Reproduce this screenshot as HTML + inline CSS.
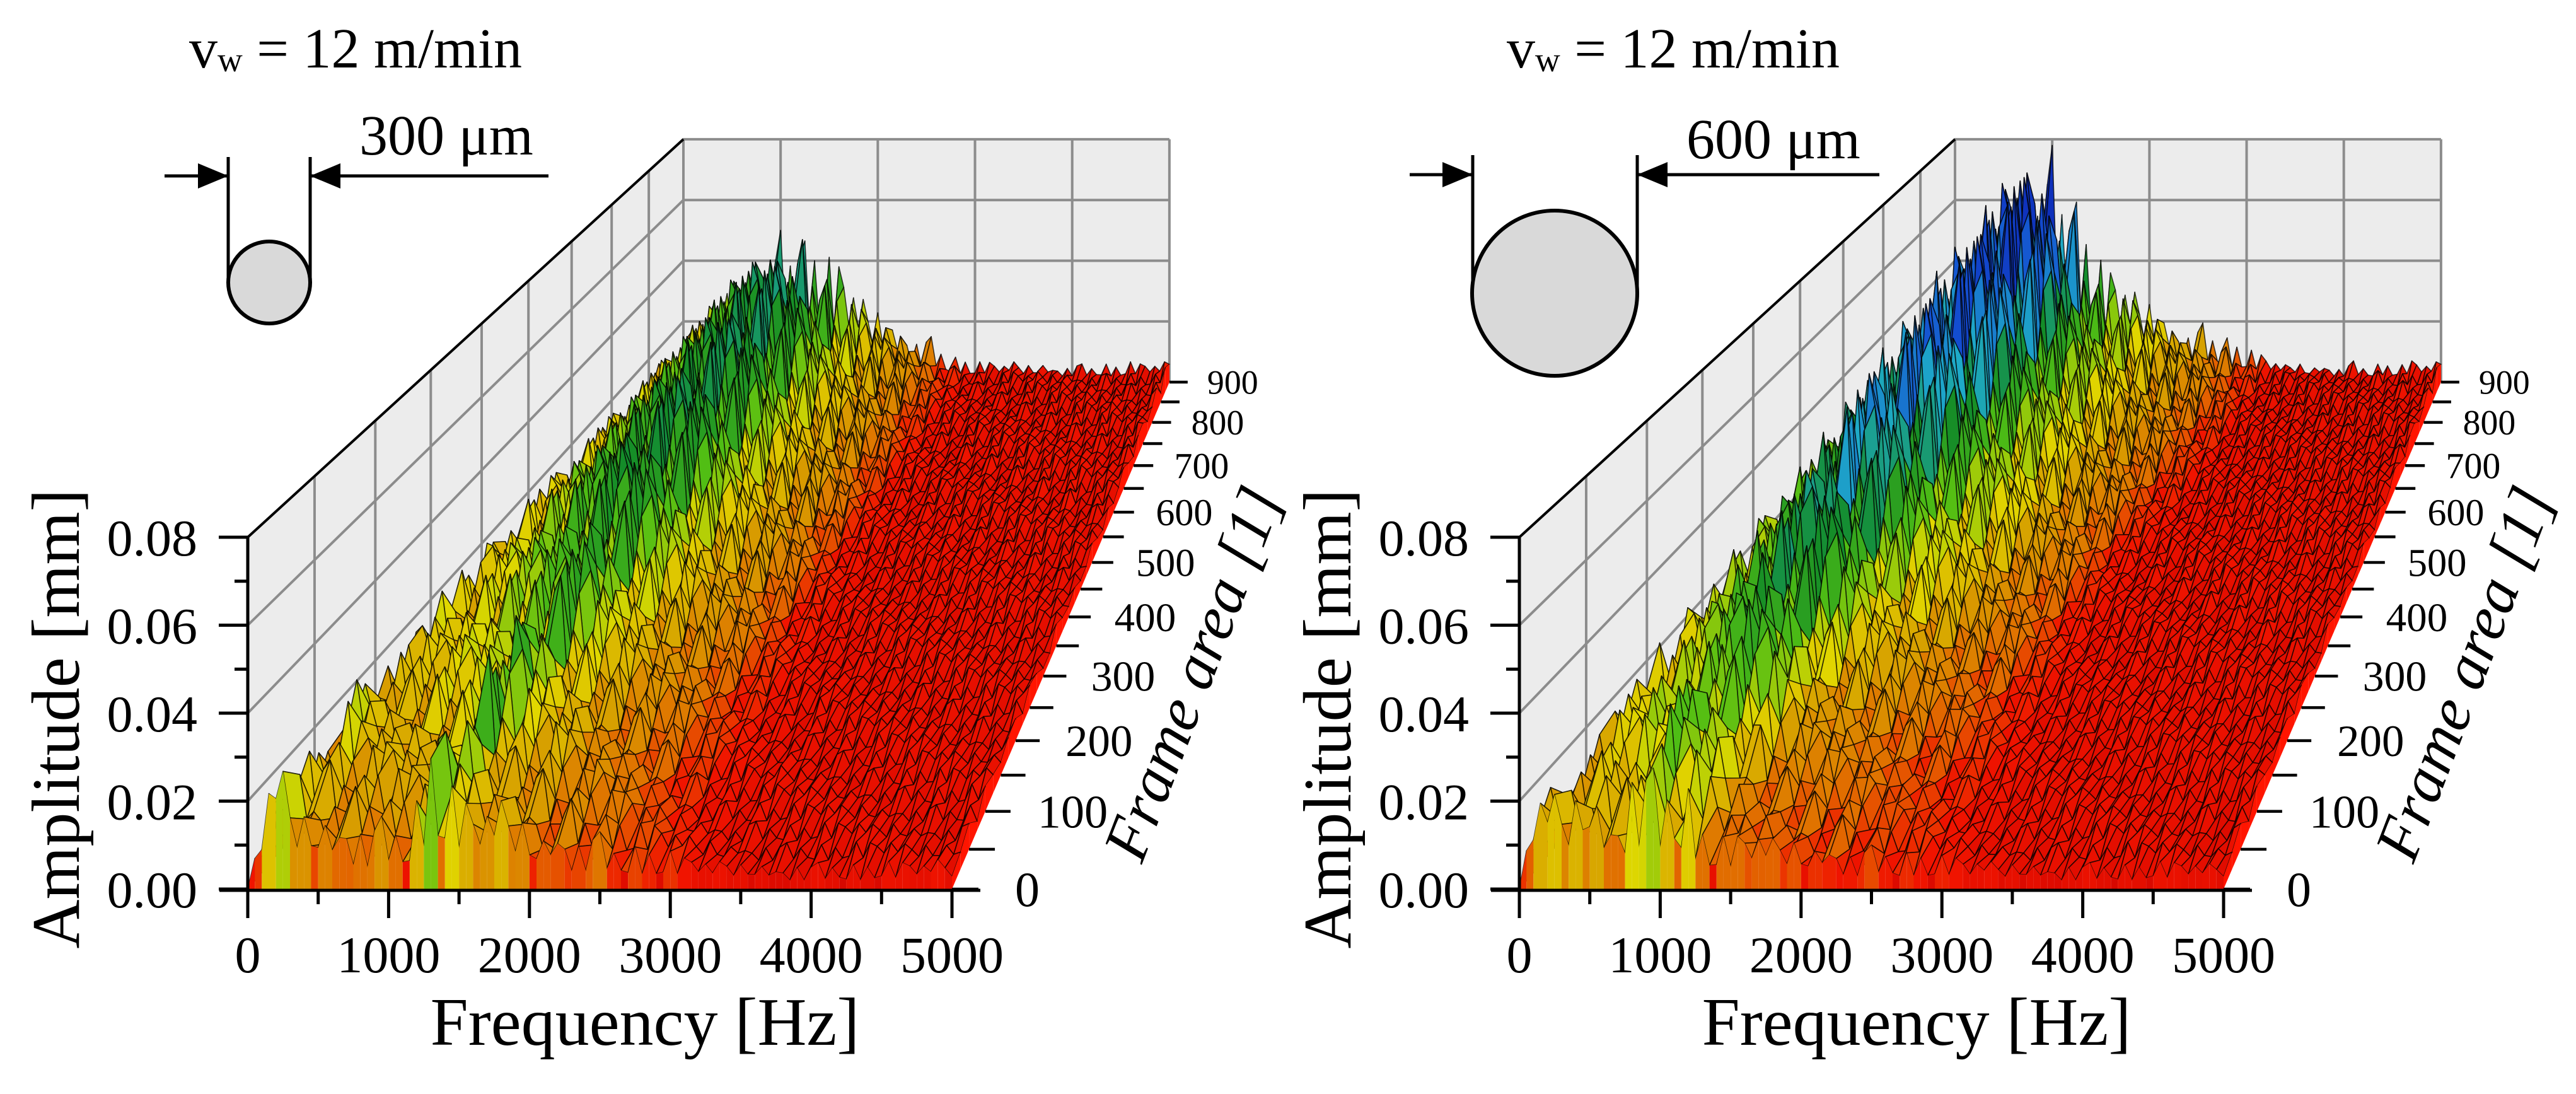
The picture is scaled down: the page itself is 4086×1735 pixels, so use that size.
<!DOCTYPE html>
<html>
<head>
<meta charset="utf-8">
<style>
html,body{margin:0;padding:0;background:#fff;}
svg{display:block;}
text{font-family:"Liberation Serif",serif;fill:#000;}
</style>
</head>
<body>
<svg id="fig" xmlns="http://www.w3.org/2000/svg" width="4086" height="1735" viewBox="0 0 4086 1735"></svg>
<script>
// ---- chart data (amplitude envelopes in mm, every 100 Hz from 0 to 5000 Hz) ----
const freqTicks = [0, 1000, 2000, 3000, 4000, 5000];
const ampTicks = [0, 0.02, 0.04, 0.06, 0.08];
const ampTickLabels = ["0.00", "0.02", "0.04", "0.06", "0.08"];
const frameTicks = [0, 100, 200, 300, 400, 500, 600, 700, 800, 900];
const profileFrames = [0, 450, 900];

const leftFront = [0,.016,.034,.022,.018,.02,.017,.019,.018,.016,.017,.016,.022,.036,.027,.022,.017,.019,.021,.018,.015,.014,.016,.014,.014,.013,.011,.011,.01,.009,.009,.007,.007,.006,.007,.006,.007,.006,.006,.007,.006,.006,.007,.006,.006,.007,.006,.006,.006,.007,.006];
const leftMid   = [0,.022,.025,.026,.028,.032,.034,.036,.04,.042,.045,.046,.044,.045,.042,.038,.034,.03,.027,.025,.023,.021,.02,.019,.018,.016,.014,.011,.009,.008,.007,.007,.006,.006,.007,.006,.006,.007,.006,.006,.007,.006,.006,.007,.006,.006,.007,.006,.006,.006,.006];
const leftBack  = [0,.02,.022,.026,.03,.034,.038,.042,.045,.048,.05,.052,.052,.05,.047,.043,.038,.034,.03,.027,.025,.023,.021,.02,.018,.016,.014,.011,.009,.008,.007,.007,.006,.006,.007,.006,.006,.007,.006,.006,.007,.006,.006,.007,.006,.006,.007,.006,.006,.006,.008];

const rightFront = [0,.02,.025,.02,.022,.03,.018,.02,.035,.03,.025,.03,.025,.015,.013,.012,.012,.013,.012,.012,.011,.011,.012,.011,.01,.01,.01,.009,.009,.008,.008,.007,.006,.007,.006,.006,.007,.006,.006,.007,.006,.006,.007,.006,.006,.007,.006,.006,.006,.006,.006];
const rightMid   = [0,.03,.034,.036,.04,.048,.055,.058,.06,.058,.055,.05,.045,.04,.035,.032,.03,.03,.028,.026,.025,.022,.02,.018,.017,.016,.015,.012,.01,.008,.007,.007,.006,.007,.006,.006,.007,.006,.006,.007,.006,.006,.007,.006,.006,.007,.006,.006,.006,.006,.006];
const rightBack  = [0,.035,.04,.045,.05,.062,.07,.075,.078,.08,.078,.075,.07,.06,.05,.042,.036,.034,.032,.03,.028,.026,.024,.022,.021,.02,.019,.018,.016,.014,.012,.01,.008,.007,.006,.007,.006,.006,.007,.006,.006,.007,.006,.006,.007,.006,.006,.007,.006,.006,.008];

// roughness read as relative spike heights
const roughness = [1.0,0.45,0.8,0.3,0.95,0.55,0.25,0.85,0.4,1.0,0.35,0.7,0.2,0.9,0.5,0.75,0.3,0.95,0.4,0.65,0.25,0.85,0.45,0.7,0.35,0.9,0.2,0.8,0.55,0.6,0.3];

const panels = [
  {ox: 393, name: "left", prof: [leftFront, leftMid, leftBack], title: "300 μm"},
  {ox: 2410, name: "right", prof: [rightFront, rightMid, rightBack], title: "600 μm"}
];

const NS = "http://www.w3.org/2000/svg";
const svg = document.getElementById("fig");
const K = 0.449;
function proj(ox, f, t, a) {
  const g = t * (1 + K) / (1 + K * t);
  const s = 1 / (1 + K * t);
  const lx = ox + 691 * g, ly = 1410 - 804 * g;
  return [lx + f / 5000 * 1117 * s, ly - a / 0.08 * 558 * s];
}
function scaleAt(t) { return 1 / (1 + K * t); }
function el(tag, attrs, parent) {
  const e = document.createElementNS(NS, tag);
  for (const k in attrs) e.setAttribute(k, attrs[k]);
  (parent || svg).appendChild(e);
  return e;
}
function pts(arr) { return arr.map(p => p[0].toFixed(1) + "," + p[1].toFixed(1)).join(" "); }

const stops = [[0,[200,0,0]],[0.007,[240,20,0]],[0.012,[225,110,0]],[0.018,[215,160,0]],[0.024,[225,215,0]],[0.032,[80,190,20]],[0.042,[20,140,40]],[0.052,[30,170,200]],[0.062,[20,80,210]],[0.08,[10,25,170]]];
function color(a) {
  if (a <= stops[0][0]) return "rgb(" + stops[0][1].join(",") + ")";
  for (let i = 1; i < stops.length; i++) {
    if (a <= stops[i][0]) {
      const u = (a - stops[i-1][0]) / (stops[i][0] - stops[i-1][0]);
      const c = stops[i-1][1].map((v, k) => Math.round(v + (stops[i][1][k] - v) * u));
      return "rgb(" + c.join(",") + ")";
    }
  }
  return "rgb(" + stops[stops.length-1][1].join(",") + ")";
}
function envelope(prof, fIdx100, frame) {
  const lo = Math.floor(fIdx100), hi = Math.min(50, lo + 1), u = fIdx100 - lo;
  function at(p) { return p[lo] + (p[hi] - p[lo]) * u; }
  if (frame <= profileFrames[1]) {
    const w = frame / profileFrames[1];
    return at(prof[0]) * (1 - w) + at(prof[1]) * w;
  }
  const w = (frame - profileFrames[1]) / (profileFrames[2] - profileFrames[1]);
  return at(prof[1]) * (1 - w) + at(prof[2]) * w;
}

panels.forEach(function(P, pi) {
  const ox = P.ox;
  const g = el("g", {});
  
  

  const lw = el("polygon", {points: pts([proj(ox,0,0,0),proj(ox,0,0,0.08),proj(ox,0,1,0.08),proj(ox,0,1,0)]), fill: "#ececec", stroke: "none"}, g);
  
  
  const bw = el("polygon", {points: pts([proj(ox,0,1,0),proj(ox,5000,1,0),proj(ox,5000,1,0.08),proj(ox,0,1,0.08)]), fill: "#ececec", stroke: "none"}, g);
  
  
  for (let fr = 100; fr <= 900; fr += 100) {
    const a = proj(ox,0,fr/900,0), b = proj(ox,0,fr/900,0.08);
    const ln = el("line", {x1:a[0],y1:a[1],x2:b[0],y2:b[1],stroke:"#8c8c8c","stroke-width":4}, g);
    
    
  }
  for (let i = 1; i < ampTicks.length; i++) {
    const a = proj(ox,0,0,ampTicks[i]), b = proj(ox,0,1,ampTicks[i]), c = proj(ox,5000,1,ampTicks[i]);
    const ln = el("polyline", {points: pts([a,b,c]), fill:"none", stroke: "#8c8c8c", "stroke-width":4}, g);
    
    
  }
  for (let i = 1; i < freqTicks.length; i++) {
    const a = proj(ox,freqTicks[i],1,0), b = proj(ox,freqTicks[i],1,0.08);
    const ln = el("line", {x1:a[0],y1:a[1],x2:b[0],y2:b[1],stroke:"#8c8c8c","stroke-width":4}, g);
    
    
  }
  const topEdge = el("line", {x1:proj(ox,0,0,0.08)[0],y1:proj(ox,0,0,0.08)[1],x2:proj(ox,0,1,0.08)[0],y2:proj(ox,0,1,0.08)[1],stroke:"#000","stroke-width":4}, g);
  
  

  // surface
  const surf = el("g", {stroke: "rgba(0,0,0,0.72)", "stroke-width": 1.6, "stroke-linejoin": "round"}, g);
  
  
  const rows = [], nF = 101;
  for (let fr = 0; fr <= 900; fr += 25) rows.push(fr);
  const amp = rows.map(function(fr, i) {
    const row = [];
    for (let j = 0; j < nF; j++) {
      const e = envelope(P.prof, j / 2, fr);
      const r = roughness[(j * 7 + i * 11) % roughness.length];
      row.push(j === 0 ? 0 : Math.max(0.002, e * (0.12 + 0.88 * r)));
    }
    return row;
  });
  for (let i = rows.length - 1; i >= 1; i--) {
    const t0 = rows[i-1] / 900, t1 = rows[i] / 900;
    for (let j = 0; j < nF - 1; j++) {
      const f0 = j * 50, f1 = (j + 1) * 50;
      const a00 = amp[i-1][j], a01 = amp[i-1][j+1], a10 = amp[i][j], a11 = amp[i][j+1];
      const q = el("polygon", {points: pts([proj(ox,f0,t1,a10),proj(ox,f1,t1,a11),proj(ox,f1,t0,a01),proj(ox,f0,t0,a00)]), fill: color(Math.max(a00,a01,a10,a11) * 0.8 + (a00+a01+a10+a11) / 4 * 0.2)}, surf);
      
      
    }
    const sc = el("polygon", {points: pts([proj(ox,5000,t1,0),proj(ox,5000,t1,amp[i][nF-1]),proj(ox,5000,t0,amp[i-1][nF-1]),proj(ox,5000,t0,0)]), fill: "#ff1500", stroke: "none"}, surf);
    
    
  }
  for (let j = 0; j < nF - 1; j++) {
    const a0 = amp[0][j], a1 = amp[0][j+1];
    const fc = el("polygon", {points: pts([proj(ox,j*50,0,0),proj(ox,j*50,0,a0),proj(ox,(j+1)*50,0,a1),proj(ox,(j+1)*50,0,0)]), fill: color(Math.max(a0,a1)), stroke: "none"}, surf);
    
    
  }

  // axes
  const xa = el("line", {x1: ox-45, y1: 1412, x2: ox+1162, y2: 1412, stroke: "#000", "stroke-width": 5}, g);
  
  
  const ya = el("line", {x1: ox, y1: proj(ox,0,0,0.08)[1], x2: ox, y2: 1456, stroke: "#000", "stroke-width": 5}, g);
  
  
  for (let f = 0; f <= 5000; f += 500) {
    const x = proj(ox,f,0,0)[0];
    const major = f % 1000 === 0;
    const tk = el("line", {x1:x,y1:1412,x2:x,y2:major?1456:1434,stroke:"#000","stroke-width":5}, g);
    
    
  }
  freqTicks.forEach(function(f) {
    const tx = el("text", {x: proj(ox,f,0,0)[0], y: 1542, "font-size": 82, "text-anchor": "middle"}, g);
    tx.textContent = String(f);
    
    
  });
  for (let a = 0; a <= 0.0801; a += 0.01) {
    const y = proj(ox,0,0,a)[1];
    const major = Math.round(a * 100) % 2 === 0;
    const tk = el("line", {x1: major ? ox-46 : ox-21, y1: y, x2: ox, y2: y, stroke:"#000","stroke-width":5}, g);
    
    
  }
  ampTicks.forEach(function(a, i) {
    const tx = el("text", {x: ox-80, y: proj(ox,0,0,a)[1] + 29, "font-size": 82, "text-anchor": "end"}, g);
    tx.textContent = ampTickLabels[i];
    
    
  });
  for (let fr = 0; fr <= 900; fr += 50) {
    const t = fr / 900, s = scaleAt(t);
    const e = proj(ox,5000,t,0);
    const tk = el("line", {x1: e[0], y1: e[1], x2: e[0] + 42 * s, y2: e[1], stroke:"#000", "stroke-width": 4.5}, g);
    
    
  }
  frameTicks.forEach(function(fr) {
    const t = fr / 900, s = scaleAt(t);
    const e = proj(ox,5000,t,0);
    const tx = el("text", {x: e[0] + (fr === 0 ? 100 : 87) * s, y: e[1] + 27 * s, "font-size": 78 * s}, g);
    tx.textContent = String(fr);
    
    
  });

  const yt = el("text", {x: 0, y: 0, "font-size": 108, "text-anchor": "middle", transform: "translate(" + (ox - 268) + ",1140) rotate(-90)"}, g);
  yt.textContent = "Amplitude [mm]";
  
  
  const xt = el("text", {x: ox + 630, y: 1657, "font-size": 108, "text-anchor": "middle"}, g);
  xt.textContent = "Frequency [Hz]";
  
  
  const zt = el("text", {x: 0, y: 0, "font-size": 100, "font-style": "italic", "text-anchor": "middle", transform: "translate(" + (ox + 1530) + ",1080) rotate(-69)"}, g);
  zt.textContent = "Frame area [1]";
  
  

  const vt = el("text", {x: pi === 0 ? 300 : 2390, y: 107, "font-size": 90}, g);
  
  
  const t1 = el("tspan", {}, vt); t1.textContent = "v";
  const t2 = el("tspan", {"font-size": 55, dy: 6}, vt); t2.textContent = "w";
  const t3 = el("tspan", {dy: -6}, vt); t3.textContent = " = 12 m/min";

  const d = pi === 0 ? {xl: 261, x1: 362, x2: 492, xr: 870, ya: 279, ytop: 249, cx: 427, cy: 448, r: 65, tx: 570, ty: 245}
                     : {xl: 2236, x1: 2336, x2: 2597, xr: 2981, ya: 277, ytop: 246, cx: 2466, cy: 465, r: 131, tx: 2675, ty: 251};
  const dg = el("g", {stroke: "#000", "stroke-width": 5, fill: "none"}, g);
  
  
  el("line", {x1: d.xl, y1: d.ya, x2: d.x1, y2: d.ya}, dg);
  el("line", {x1: d.x2, y1: d.ya, x2: d.xr, y2: d.ya}, dg);
  el("line", {x1: d.x1, y1: d.ytop, x2: d.x1, y2: d.cy}, dg);
  el("line", {x1: d.x2, y1: d.ytop, x2: d.x2, y2: d.cy}, dg);
  const circ = el("circle", {cx: d.cx, cy: d.cy, r: d.r, fill: "#d9d9d9", "stroke-width": 6}, dg);
  
  
  el("polygon", {points: pts([[d.x1, d.ya], [d.x1-48, d.ya-20], [d.x1-48, d.ya+20]]), fill: "#000", stroke: "none"}, dg);
  el("polygon", {points: pts([[d.x2, d.ya], [d.x2+48, d.ya-20], [d.x2+48, d.ya+20]]), fill: "#000", stroke: "none"}, dg);
  const dt = el("text", {x: d.tx, y: d.ty, "font-size": 90}, g);
  dt.textContent = P.title;
  
  
});
</script>
</body>
</html>
